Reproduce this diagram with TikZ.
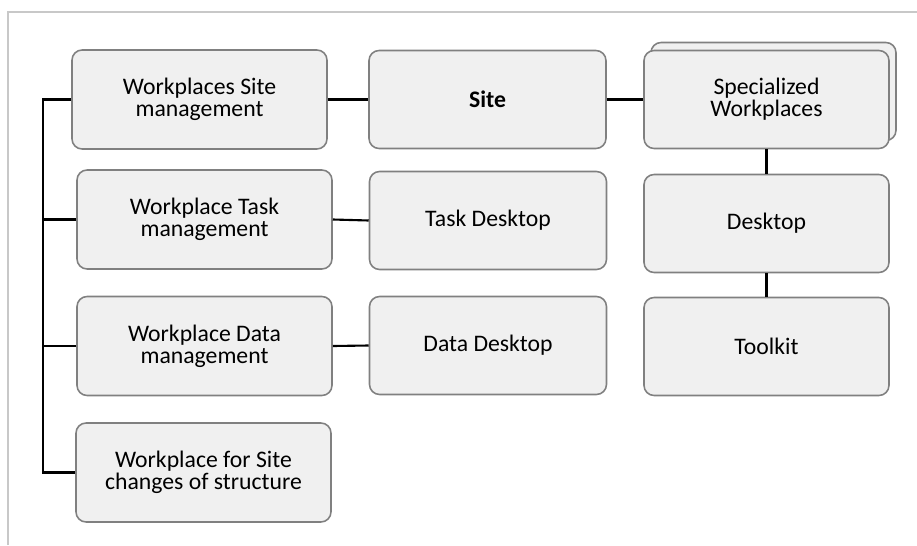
\documentclass[tikz,border=0pt]{standalone}
\usepackage{fontspec}
\setmainfont{Carlito}
\usetikzlibrary{shadows}
\definecolor{boxfill}{HTML}{F0F0F0}
\definecolor{boxline}{HTML}{808080}
\definecolor{frameline}{HTML}{C8C8C8}
\tikzset{
  part/.style={draw=boxline, fill=boxfill, line width=0.9pt, rounded corners=0.2cm,
    align=center, inner sep=2pt, font=\fontsize{13.5}{12.6}\selectfont},
  wide/.style={part, minimum width=5.1cm, minimum height=1.98cm},
  mid/.style={part, minimum width=4.74cm, minimum height=1.96cm},
  right/.style={part, minimum width=4.9cm, minimum height=1.96cm},
  link/.style={line width=1.2pt, black}
}
\begin{document}
\begin{tikzpicture}[x=0.02cm,y=-0.02cm]
  \useasboundingbox (0,0) rectangle (917,545);
  % frame lines
  \draw[frameline, line width=0.8pt] (8,545) -- (8,12) -- (917,12);

  % left column
  \node[wide] (wsite) at (199.5,99.5) {Workplaces Site\\management};
  \node[wide] (wtask) at (204.5,219.5) {Workplace Task\\management};
  \node[wide] (wdata) at (204.5,346) {Workplace Data\\management};
  \node[wide] (wchange) at (203.5,472.5) {Workplace for Site\\changes of structure};

  % middle column
  \node[mid] (site) at (487.5,99.5) {\textbf{Site}};
  \node[mid] (taskdesk) at (488,220.5) {Task Desktop};
  \node[mid] (datadesk) at (488,345.5) {Data Desktop};

  % right column
  \node[right, copy shadow={shadow xshift=0.14cm, shadow yshift=0.16cm}] (special) at (766.5,99.5) {Specialized\\Workplaces};
  \node[right] (desk) at (766.5,223.5) {Desktop};
  \node[right] (toolkit) at (766.5,346.5) {Toolkit};

  % bus on the left
  \coordinate (bustop) at (43,99.5);
  \coordinate (busbot) at (43,472.5);
  \draw[link] (wsite.west) -- (bustop) -- (busbot) -- (wchange.west);
  \draw[link] (wtask.west) -- (wtask.west -| bustop);
  \draw[link] (wdata.west) -- (wdata.west -| bustop);

  % links
  \draw[link] (wsite.east) -- (site.west);
  \draw[link] (wtask.east) -- (taskdesk.west);
  \draw[link] (wdata.east) -- (datadesk.west);
  \draw[link] (site.east) -- (special.west);
  \draw[link] (special.south) -- (desk.north);
  \draw[link] (desk.south) -- (toolkit.north);
\end{tikzpicture}
\end{document}
